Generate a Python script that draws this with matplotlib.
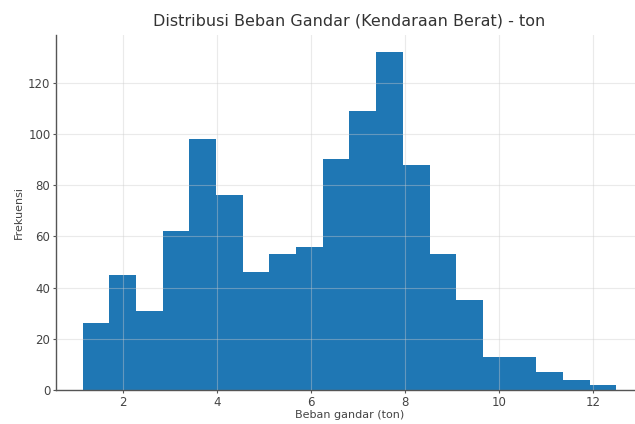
import numpy as np
import matplotlib
matplotlib.use("Agg")
import matplotlib.pyplot as plt

# histogram counts (20 bins)
counts = [26, 45, 31, 62, 98, 76, 46, 53, 56, 90, 109, 132, 88, 53, 35, 13, 13, 7, 4, 2]
bin_lo, bin_hi = 1.15, 12.5
edges = np.linspace(bin_lo, bin_hi, len(counts) + 1)

title = "Distribusi Beban Gandar (Kendaraan Berat) - ton"
xlab = "Beban gandar (ton)"
ylab = "Frekuensi"

fig = plt.figure(figsize=(6.35, 4.24), dpi=100)
# right edge of the axes runs past the picture, as in the reference
ax = fig.add_axes([56/635, 1 - 390/424, (643 - 56)/635, (390 - 35)/424])

ax.hist(edges[:-1], bins=edges, weights=counts, color="#1f77b4")

ax.grid(True, color="#cccccc", alpha=0.4, linewidth=0.8)
ax.set_axisbelow(False)
for s in ["top", "right"]:
    ax.spines[s].set_visible(False)
for s in ["left", "bottom"]:
    ax.spines[s].set_color("#555555")
    ax.spines[s].set_linewidth(1.0)

ax.tick_params(colors="#555555", labelsize=8.5, length=2.5, pad=1.5, labelcolor="#444444")
ax.set_title(title, fontsize=11.5, color="#333333", pad=7)
ax.set_xlabel(xlab, fontsize=8, color="#444444", labelpad=1)
ax.set_ylabel(ylab, fontsize=8, color="#444444", labelpad=3)

fig.savefig("out.png", dpi=100)
